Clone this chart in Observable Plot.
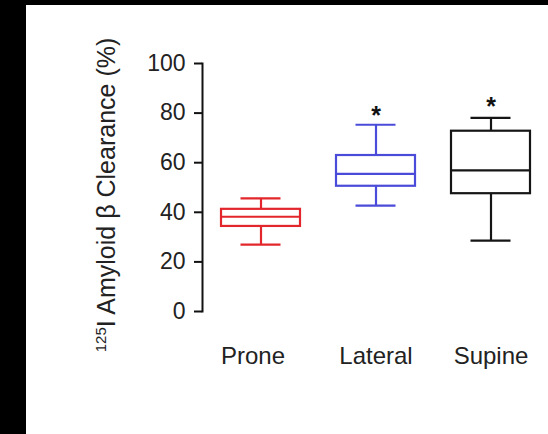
<!DOCTYPE html>
<html>
<head>
<meta charset="utf-8">
<script src="https://cdn.jsdelivr.net/npm/d3@7"></script>
<script src="https://cdn.jsdelivr.net/npm/@observablehq/plot@0.6"></script>
<style>
  html, body { margin: 0; padding: 0; background: #000; width: 548px; height: 434px; overflow: hidden; }
  #panel { position: absolute; left: 26px; top: 5px; width: 522px; height: 429px; background: #fff; }
  #panel svg { display: block; }
</style>
</head>
<body>
<div id="panel"></div>
<script>
// Data
const groups = ["Prone", "Lateral", "Supine"];
const whiskerLow = [27.0, 42.7, 28.6];
const quartile1 = [34.3, 50.5, 47.5];
const medians = [38.2, 55.5, 56.9];
const quartile3 = [41.2, 62.9, 72.7];
const whiskerHigh = [45.6, 75.3, 78.1];
const groupColors = ["#e2262b", "#4b4bd9", "#151515"];
const starLevel = [null, 80.5, 84];
const yTicks = [0, 20, 40, 60, 80, 100];
const yLabelMain = "I Amyloid β Clearance (%)";
const yLabelSup = "125";

const rows = groups.map((g, i) => ({
  group: g, low: whiskerLow[i], q1: quartile1[i], median: medians[i],
  q3: quartile3[i], high: whiskerHigh[i], color: groupColors[i], star: starLevel[i]
}));
const starred = rows.filter(d => d.star != null);

const font = "'Liberation Sans', Arial, Helvetica, sans-serif";

const chart = Plot.plot({
  width: 522,
  height: 429,
  marginLeft: 176,
  marginRight: 0,
  marginTop: 58,
  marginBottom: 123,
  style: { fontFamily: font, fontSize: "23px", color: "#111", background: "#fff" },
  x: { domain: groups, paddingInner: 0.3103, paddingOuter: 0.1466, align: 0.53, label: null },
  y: { domain: [0, 100], label: null },
  color: { type: "identity" },
  marks: [
    Plot.frame({ anchor: "left", stroke: "#111", strokeWidth: 2 }),
    Plot.axisY({ ticks: yTicks, tickSize: 8, tickPadding: 9, strokeWidth: 2, stroke: "#111", fontSize: 23, fill: "#222" }),
    Plot.axisX({ ticks: groups.slice(0, 1), tickSize: 0, tickPadding: 35, fontSize: 24, fill: "#222", dx: -8 }),
    Plot.axisX({ ticks: groups.slice(1), tickSize: 0, tickPadding: 35, fontSize: 24, fill: "#222" }),
    Plot.ruleX(rows, { x: "group", y1: "low", y2: "q1", stroke: "color", strokeWidth: 2.2 }),
    Plot.ruleX(rows, { x: "group", y1: "q3", y2: "high", stroke: "color", strokeWidth: 2.2 }),
    Plot.barY(rows, { x: "group", y1: "q1", y2: "q3", fill: "white", stroke: "color", strokeWidth: 2.2 }),
    Plot.tickY(rows, { x: "group", y: "median", stroke: "color", strokeWidth: 2.2 }),
    Plot.tickY(rows, { x: "group", y: "low", stroke: "color", strokeWidth: 2.2, insetLeft: 19.5, insetRight: 19.5 }),
    Plot.tickY(rows, { x: "group", y: "high", stroke: "color", strokeWidth: 2.2, insetLeft: 19.5, insetRight: 19.5 }),
    Plot.text(starred, { x: "group", y: "star", text: () => "*", fontSize: 25, fontWeight: "bold", fill: "#111", dy: 4 })
  ]
});

// y-axis title with superscript, placed in the plot's SVG
const svg = d3.select(chart);
const yScale = chart.scale("y");
const yMid = (yScale.apply(0) + yScale.apply(100)) / 2 + 8;
const label = svg.append("text")
  .attr("transform", `translate(89,${yMid}) rotate(-90)`)
  .attr("text-anchor", "middle")
  .attr("font-family", font)
  .attr("font-size", 25)
  .attr("fill", "#222");
label.append("tspan").attr("font-size", 15).attr("dy", -9).text(yLabelSup);
label.append("tspan").attr("dy", 9).text(yLabelMain);

document.getElementById("panel").appendChild(chart);
</script>
</body>
</html>
